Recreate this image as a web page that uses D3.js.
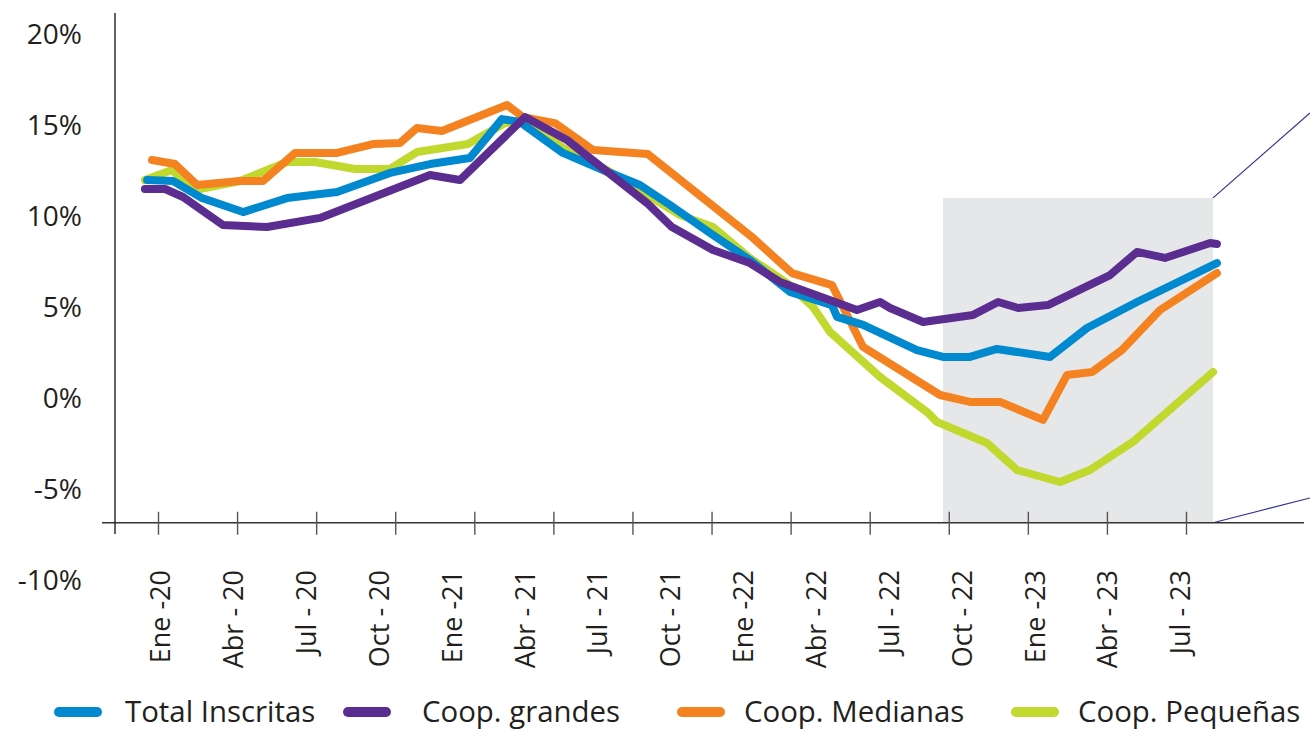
<!DOCTYPE html>
<html lang="es">
<head>
<meta charset="utf-8">
<script src="https://cdn.jsdelivr.net/npm/d3@7"></script>
<style>
  html, body { margin: 0; padding: 0; background: #fff; }
  svg { display: block; font-family: "Open Sans", sans-serif; }
</style>
</head>
<body>
<svg id="chart" width="1310" height="732"></svg>
<script>
// quarter labels, one every 3 months starting at Ene-20 (month 0)
const quarterLabels = ["Ene -20", "Abr - 20", "Jul - 20", "Oct - 20", "Ene -21", "Abr - 21", "Jul - 21",
  "Oct - 21", "Ene -22", "Abr - 22", "Jul - 22", "Oct - 22", "Ene -23", "Abr - 23", "Jul - 23"];
const yTickValues = [-10, -5, 0, 5, 10, 15, 20];

// [month since Ene-20, % change]
const totalInscritas = [[-0.53, 12.03], [0.54, 11.98], [1.73, 11.04], [3.42, 10.27], [5.23, 11.04], [7.29, 11.37],
  [9.47, 12.42], [11.12, 12.91], [12.76, 13.24], [14.08, 15.38], [14.82, 15.22], [16.59, 13.52], [18.24, 12.58],
  [19.76, 11.76], [21.0, 10.66], [22.65, 9.12], [24.29, 7.64], [25.94, 5.88], [27.67, 5.16], [27.88, 4.51],
  [28.95, 4.07], [31.17, 2.69], [32.24, 2.31], [33.35, 2.31], [34.46, 2.75], [36.65, 2.31], [38.17, 3.9],
  [40.23, 5.33], [43.52, 7.47]];
const coopGrandes = [[-0.62, 11.54], [0.21, 11.54], [0.95, 11.1], [2.59, 9.56], [4.41, 9.45], [6.59, 9.95],
  [11.12, 12.31], [12.35, 12.03], [15.03, 15.49], [16.76, 14.23], [20.05, 10.77], [21.08, 9.45], [22.77, 8.19],
  [24.29, 7.47], [25.53, 6.43], [28.7, 4.89], [29.65, 5.33], [30.06, 5.0], [31.42, 4.23], [33.48, 4.62],
  [34.51, 5.33], [35.33, 5.0], [36.56, 5.16], [39.12, 6.81], [40.23, 8.08], [41.38, 7.75], [43.24, 8.57],
  [43.52, 8.52]];
const coopMedianas = [[-0.33, 13.13], [0.62, 12.91], [1.52, 11.76], [3.29, 11.98], [4.24, 11.98], [5.56, 13.52],
  [7.29, 13.52], [8.77, 14.01], [9.88, 14.07], [10.58, 14.89], [11.61, 14.73], [14.29, 16.15], [14.95, 15.49],
  [16.26, 15.16], [17.83, 13.68], [20.09, 13.46], [24.42, 8.85], [25.65, 7.36], [26.02, 6.92], [27.67, 6.26],
  [28.95, 2.86], [32.12, 0.22], [33.35, -0.16], [34.59, -0.16], [36.36, -1.15], [37.35, 1.32], [38.38, 1.48],
  [39.61, 2.69], [41.18, 4.89], [43.52, 6.92]];
const coopPequenas = [[-0.62, 12.03], [0.49, 12.58], [1.44, 11.48], [3.29, 11.98], [5.23, 13.02], [6.38, 13.02],
  [8.03, 12.64], [9.47, 12.64], [10.58, 13.57], [12.68, 14.01], [14.21, 15.16], [15.11, 15.33], [16.59, 13.79],
  [18.41, 12.58], [21.41, 10.11], [22.77, 9.45], [24.29, 7.75], [25.82, 6.37], [26.89, 5.05], [27.59, 3.68],
  [29.65, 1.21], [31.58, -0.71], [31.99, -1.26], [34.05, -2.42], [35.29, -3.9], [37.06, -4.56], [38.29, -3.9],
  [40.06, -2.36], [43.36, 1.48]];

const seriesNames = ["Total Inscritas", "Coop. grandes", "Coop. Medianas", "Coop. Pequeñas"];
const seriesColors = ["#0089cf", "#5c2d91", "#f58220", "#c1d82f"];
const seriesData = [totalInscritas, coopGrandes, coopMedianas, coopPequenas];

// shaded zoom window
const HIGHLIGHT = { from: 32.24, to: 43.36, top: 11.05 };
const X_AXIS_AT = -6.8;

const svg = d3.select("#chart");
const width = 1310;

const x = d3.scaleLinear().domain([0, 42]).range([160, 1180]);
const y = d3.scaleLinear().domain([-10, 20]).range([581, 35]);
// tick marks on the category axis sit on their own spacing
const tickPos = d3.scaleLinear().domain([0, 13]).range([158, 1186]);

const series = seriesNames.map((name, i) => ({ name, color: seriesColors[i], values: seriesData[i] }));

// highlight box + callout lines
const hx0 = x(HIGHLIGHT.from), hx1 = x(HIGHLIGHT.to);
svg.append("rect")
  .attr("x", hx0).attr("y", y(HIGHLIGHT.top))
  .attr("width", hx1 - hx0).attr("height", y(X_AXIS_AT) - y(HIGHLIGHT.top))
  .attr("fill", "#e6e7e8");

svg.append("g")
  .attr("stroke", "#2e3192").attr("stroke-width", 1.2)
  .selectAll("line")
  .data([[HIGHLIGHT.top, 113], [X_AXIS_AT, 498]])
  .join("line")
  .attr("x1", hx1).attr("y1", d => y(d[0]))
  .attr("x2", width).attr("y2", d => d[1]);

// x axis line and ticks
svg.append("line")
  .attr("x1", 102).attr("x2", 1304)
  .attr("y1", y(X_AXIS_AT)).attr("y2", y(X_AXIS_AT))
  .attr("stroke", "#333").attr("stroke-width", 1.4);

svg.append("g")
  .attr("transform", `translate(0,${y(X_AXIS_AT) - 11})`)
  .call(d3.axisBottom(tickPos).tickValues(d3.range(14)).tickSize(23).tickFormat(""))
  .call(g => g.select(".domain").remove())
  .call(g => g.selectAll(".tick line").attr("stroke", "#555").attr("stroke-width", 1.4));

svg.append("g")
  .attr("transform", "translate(0,570)")
  .call(d3.axisBottom(x).tickValues(d3.range(0, 43, 3)).tickSize(0)
    .tickFormat(d => quarterLabels[d / 3]))
  .call(g => g.select(".domain").remove())
  .call(g => g.selectAll(".tick text")
    .attr("transform", "rotate(-90)")
    .attr("x", 0).attr("y", 0).attr("dy", "0.36em")
    .attr("text-anchor", "end")
    .attr("fill", "#231f20")
    .attr("font-size", 27)
    .attr("font-family", "Open Sans"));

// y axis
svg.append("line")
  .attr("x1", 115).attr("x2", 115).attr("y1", 13).attr("y2", 534)
  .attr("stroke", "#231f20").attr("stroke-width", 1.4);

svg.append("g")
  .attr("transform", "translate(115,0)")
  .call(d3.axisLeft(y).tickValues(yTickValues).tickSize(0).tickPadding(33)
    .tickFormat(d => d + "%"))
  .call(g => g.select(".domain").remove())
  .call(g => g.selectAll(".tick text")
    .attr("fill", "#231f20")
    .attr("font-size", 28)
    .attr("font-family", "Open Sans"));

// lines, drawn bottom to top: Pequeñas, Medianas, Total, grandes
const line = d3.line().x(d => x(d[0])).y(d => y(d[1]));
svg.append("g")
  .selectAll("path")
  .data([series[3], series[2], series[0], series[1]])
  .join("path")
  .attr("d", d => line(d.values))
  .attr("fill", "none")
  .attr("stroke", d => d.color)
  .attr("stroke-width", 8)
  .attr("stroke-linejoin", "round")
  .attr("stroke-linecap", "round");

// legend
const legendX = [54, 343, 677, 1011];
const legend = svg.append("g")
  .selectAll("g")
  .data(series)
  .join("g")
  .attr("transform", (d, i) => `translate(${legendX[i]},712)`);

legend.append("line")
  .attr("x1", 5).attr("x2", 43)
  .attr("stroke", d => d.color)
  .attr("stroke-width", 10)
  .attr("stroke-linecap", "round");

legend.append("text")
  .attr("x", (d, i) => i === 0 ? 71 : (i === 1 ? 79 : 67))
  .attr("y", 10)
  .attr("fill", "#231f20")
  .attr("font-size", 29.4)
  .text(d => d.name);
</script>
</body>
</html>
